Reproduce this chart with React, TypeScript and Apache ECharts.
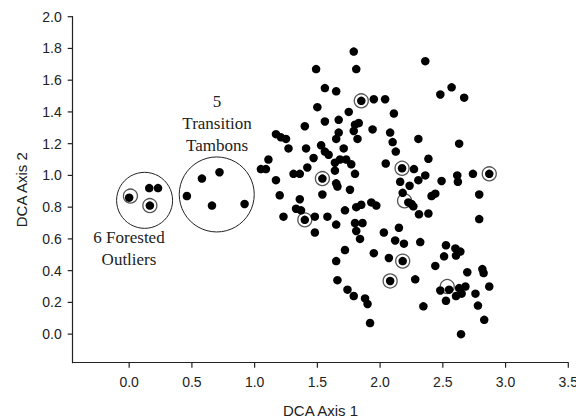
import React, { useEffect, useRef } from "react";
import * as echarts from "echarts";

const xRange = [-0.45, 3.5];
const yRange = [-0.18, 2.0];
const xTicks = [0, 0.5, 1, 1.5, 2, 2.5, 3, 3.5];
const yTicks = [0, 0.2, 0.4, 0.6, 0.8, 1.0, 1.2, 1.4, 1.6, 1.8, 2.0];

// Forested outliers and transition tambons
const forestedSites: [number, number][] = [
  [0.0, 0.86], [0.16, 0.92], [0.23, 0.92], [0.165, 0.81],
];
const transitionSites: [number, number][] = [
  [0.46, 0.87], [0.58, 0.98], [0.72, 1.02], [0.66, 0.81], [0.92, 0.82],
];

// Remaining tambons
const otherSites: [number, number][] = [
  [1.79, 1.78], [1.81, 1.67], [1.49, 1.67], [1.56, 1.55], [1.65, 1.53],
  [1.85, 1.47], [1.95, 1.48], [2.04, 1.48], [1.5, 1.43], [1.75, 1.4],
  [2.11, 1.39], [1.4, 1.31], [1.56, 1.34], [1.67, 1.35], [1.8, 1.32],
  [1.83, 1.33], [1.79, 1.28], [1.94, 1.29], [1.67, 1.27], [1.65, 1.23],
  [1.82, 1.23], [1.17, 1.26], [1.21, 1.24], [1.25, 1.23], [1.27, 1.17],
  [1.41, 1.17], [1.53, 1.19], [1.56, 1.15], [1.59, 1.13], [1.71, 1.17],
  [1.47, 1.11], [1.11, 1.1], [1.05, 1.04], [1.09, 1.04], [1.31, 1.01],
  [1.36, 1.01], [1.42, 1.05], [1.64, 1.08], [1.68, 1.1], [1.73, 1.1],
  [1.77, 1.07], [1.64, 1.03], [1.8, 1.01], [1.54, 0.98], [1.17, 0.97],
  [1.65, 0.95], [1.66, 0.93], [1.2, 0.875], [1.23, 0.74], [1.36, 0.85],
  [1.33, 0.79], [1.37, 0.78], [1.4, 0.72], [1.48, 0.74], [1.48, 0.64],
  [1.54, 0.88], [1.58, 0.74], [1.65, 0.69], [1.72, 0.78], [1.76, 0.91],
  [1.81, 0.8], [1.85, 0.815], [1.93, 0.83], [1.97, 0.81], [1.8, 0.7],
  [1.86, 0.7], [1.81, 0.65], [1.84, 0.6], [1.72, 0.53], [1.65, 0.46],
  [1.66, 0.34], [1.74, 0.28], [1.79, 0.24], [1.88, 0.225], [1.9, 0.19],
  [1.92, 0.07], [1.95, 0.51], [2.03, 0.64], [2.07, 0.48], [2.15, 0.67],
  [2.12, 0.59], [2.19, 0.57], [2.28, 0.345], [2.32, 0.58], [2.345, 0.175],
  [2.045, 1.075], [2.175, 1.045], [2.16, 0.96], [2.235, 0.935], [2.305, 0.97],
  [2.27, 1.04], [2.36, 1.0], [2.18, 0.89], [2.225, 0.83], [2.25, 0.82],
  [2.265, 0.805], [2.31, 0.755], [2.385, 0.76], [2.41, 0.87], [2.44, 0.885],
  [2.79, 0.88], [2.79, 0.725], [2.87, 1.01], [2.36, 1.72], [2.57, 1.555],
  [2.48, 1.51], [2.67, 1.49], [2.08, 1.27], [2.1, 1.21], [2.125, 1.15],
  [2.305, 1.23], [2.63, 1.2], [2.385, 1.105], [2.49, 0.965], [2.615, 1.0],
  [2.62, 0.96], [2.74, 1.01], [2.525, 0.56], [2.6, 0.54], [2.64, 0.52],
  [2.605, 0.495], [2.51, 0.49], [2.44, 0.43], [2.695, 0.39], [2.815, 0.41],
  [2.825, 0.385], [2.87, 0.3], [2.48, 0.275], [2.55, 0.28], [2.63, 0.29],
  [2.68, 0.3], [2.65, 0.255], [2.605, 0.24], [2.525, 0.21], [2.76, 0.255],
  [2.78, 0.18], [2.83, 0.09], [2.645, 0.0], [2.18, 0.46], [2.08, 0.335],
];

// Sites marked with a ring
const ringedSites: [number, number][] = [
  [0.01, 0.87], [0.165, 0.81], [1.85, 1.47], [1.54, 0.98], [1.4, 0.72],
  [2.175, 1.045], [2.195, 0.84], [2.87, 1.01], [2.18, 0.46], [2.08, 0.335],
  [2.535, 0.3],
];

// Group outlines
const forestedCircle: [number, number][] = [[0.123, 0.843]];
const transitionCircle: [number, number][] = [[0.698, 0.88]];

const INK = "#222";
const W = 576;
const H = 418;
const GRID = { left: 72.7, right: 7.7, top: 16.7, bottom: 55.3 };

export default function App() {
  const ref = useRef<HTMLDivElement>(null);
  const frameRef = useRef<HTMLDivElement>(null);
  useEffect(() => {
    document.body.style.margin = "0";
    const chart = echarts.init(ref.current!, null, { renderer: "svg" });
    const frameChart = echarts.init(frameRef.current!, null, { renderer: "svg" });
    const sans = "Liberation Sans, Arial, sans-serif";
    const serifFont = "17px 'Liberation Serif', 'Times New Roman', serif";

    chart.setOption({
      animation: false,
      grid: { ...GRID, outerBoundsMode: "none" },
      xAxis: {
        type: "value",
        min: xRange[0],
        max: xRange[1],
        name: "DCA Axis 1",
        nameLocation: "middle",
        nameGap: 40,
        nameTextStyle: { fontFamily: sans, fontSize: 15, color: INK },
        splitLine: { show: false },
        axisLine: { show: false },
        axisTick: { show: false },
        axisLabel: {
          customValues: xTicks,
          formatter: (v: number) => v.toFixed(1),
          fontFamily: sans,
          fontSize: 14,
          color: INK,
          margin: 12,
        },
      },
      yAxis: {
        type: "value",
        min: yRange[0],
        max: yRange[1],
        name: "DCA Axis 2",
        nameLocation: "middle",
        nameGap: 44,
        nameRotate: 90,
        nameTextStyle: { fontFamily: sans, fontSize: 15, color: INK },
        splitLine: { show: false },
        axisLine: { show: false },
        axisTick: { show: false },
        axisLabel: {
          customValues: yTicks,
          formatter: (v: number) => v.toFixed(1),
          fontFamily: sans,
          fontSize: 14,
          color: INK,
          margin: 11,
        },
      },
      series: [
        {
          type: "scatter",
          data: forestedCircle,
          symbol: "circle",
          symbolSize: 56,
          itemStyle: { color: "rgba(0,0,0,0)", borderColor: INK, borderWidth: 1, opacity: 1 },
          silent: true,
        },
        {
          type: "scatter",
          data: transitionCircle,
          symbol: "circle",
          symbolSize: 75,
          itemStyle: { color: "rgba(0,0,0,0)", borderColor: INK, borderWidth: 1, opacity: 1 },
          silent: true,
        },
        {
          type: "scatter",
          data: ringedSites,
          symbol: "circle",
          symbolSize: 14,
          itemStyle: { color: "#fff", borderColor: "#555", borderWidth: 1.3, opacity: 1 },
        },
        {
          type: "scatter",
          data: [...forestedSites, ...transitionSites, ...otherSites],
          symbol: "circle",
          symbolSize: 8.5,
          itemStyle: { color: "#000", opacity: 1 },
        },
      ],
      graphic: [
        {
          type: "text",
          x: 217,
          y: 90,
          style: {
            text: "5\nTransition\nTambons",
            font: serifFont,
            fill: INK,
            align: "center",
            verticalAlign: "top",
            lineHeight: 22,
          },
        },
        {
          type: "text",
          x: 129,
          y: 226,
          style: {
            text: "6 Forested\nOutliers",
            font: serifFont,
            fill: INK,
            align: "center",
            verticalAlign: "top",
            lineHeight: 22,
          },
        },
      ],
    });

    // Axis frame: same grid and scales, drawn in a transparent overlay
    const tickBase = {
      type: "scatter",
      symbol: "rect",
      silent: true,
      clip: false,
      itemStyle: { color: INK, opacity: 1 },
    };
    frameChart.setOption({
      animation: false,
      grid: { ...GRID, outerBoundsMode: "none" },
      xAxis: {
        type: "value",
        min: xRange[0],
        max: xRange[1],
        splitLine: { show: false },
        axisLine: { show: true, onZero: false, lineStyle: { color: INK, width: 1.2 } },
        axisTick: { show: false },
        axisLabel: { show: false },
      },
      yAxis: {
        type: "value",
        min: yRange[0],
        max: yRange[1],
        splitLine: { show: false },
        axisLine: { show: true, onZero: false, lineStyle: { color: INK, width: 1.2 } },
        axisTick: { show: false },
        axisLabel: { show: false },
      },
      series: [
        { ...tickBase, data: xTicks.map((v) => [v, yRange[0]]), symbolSize: [1.2, 5], symbolOffset: [0, 2.5] },
        { ...tickBase, data: yTicks.map((v) => [xRange[0], v]), symbolSize: [5, 1.2], symbolOffset: [-2.5, 0] },
      ],
    });

    return () => {
      chart.dispose();
      frameChart.dispose();
    };
  }, []);
  return (
    <div style={{ position: "relative", width: W, height: H }}>
      <div ref={ref} style={{ position: "absolute", left: 0, top: 0, width: W, height: H }} />
      <div
        ref={frameRef}
        style={{ position: "absolute", left: 0, top: 0, width: W, height: H, pointerEvents: "none" }}
      />
    </div>
  );
}
